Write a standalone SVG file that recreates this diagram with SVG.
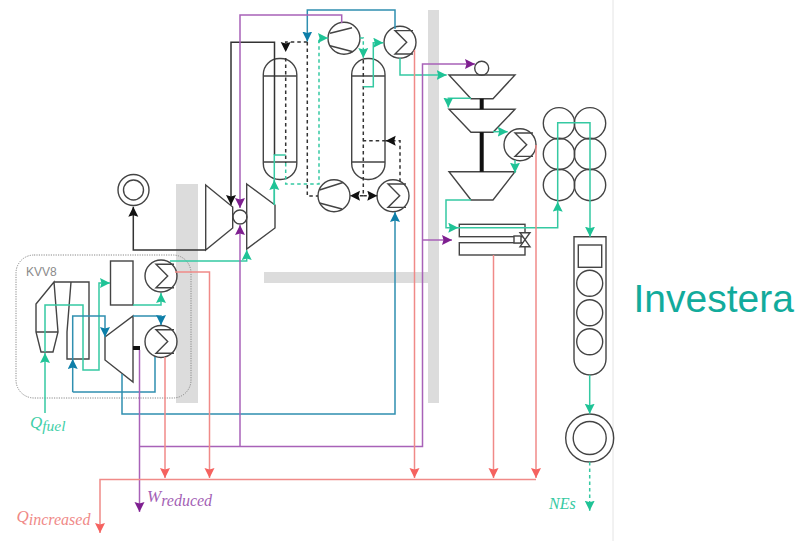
<svg xmlns="http://www.w3.org/2000/svg" width="801" height="541" viewBox="0 0 801 541">
<style>
.n{fill:none;stroke:#444;stroke-width:1.4}
.w{fill:#fff;stroke:#444;stroke-width:1.4}
.bar{fill:#dcdcdc}
.c{fill:none;stroke-width:1.5}
.g{stroke:#35c9a2}
.t{stroke:#2f8fb0}
.p{stroke:#a862b8}
.r{stroke:#f08a88}
.k{stroke:#333}
.d{stroke-dasharray:3.5 3}
text{font-family:"Liberation Serif",serif;font-style:italic}
</style>
<defs>
<marker id="ag" markerUnits="userSpaceOnUse" markerWidth="11" markerHeight="11" refX="10" refY="5" orient="auto"><path d="M0,0L10,5L0,10L1.500,5Z" fill="#1fc396"/></marker>
<marker id="at" markerUnits="userSpaceOnUse" markerWidth="11" markerHeight="11" refX="10" refY="5" orient="auto"><path d="M0,0L10,5L0,10L1.500,5Z" fill="#0d7ea8"/></marker>
<marker id="ap" markerUnits="userSpaceOnUse" markerWidth="11" markerHeight="11" refX="10" refY="5" orient="auto"><path d="M0,0L10,5L0,10L1.500,5Z" fill="#7e1f90"/></marker>
<marker id="ar" markerUnits="userSpaceOnUse" markerWidth="11" markerHeight="11" refX="10" refY="5" orient="auto"><path d="M0,0L10,5L0,10L1.500,5Z" fill="#f5625f"/></marker>
<marker id="ak" markerUnits="userSpaceOnUse" markerWidth="11" markerHeight="11" refX="10" refY="5" orient="auto"><path d="M0,0L10,5L0,10L1.500,5Z" fill="#111"/></marker>
<path id="sig" d="M13,-11.700H-5L6.700,0L-5,11.700H13" fill="none" stroke="#444" stroke-width="1.400"/>
</defs>
<rect width="801" height="541" fill="#fff"/>
<path d="M613,0V541" stroke="#e4e4e4" stroke-width="1"/>
<g id="bars">
<rect class="bar" x="176" y="184" width="22" height="219"/>
<rect class="bar" x="428" y="10" width="11" height="393"/>
<rect class="bar" x="264" y="272" width="164" height="11"/>
</g>
<g id="kvv8">
<rect x="16" y="255" width="175" height="143" rx="18" fill="none" stroke="#888" stroke-width="1" stroke-dasharray="1.2 1.2"/>
<text x="26" y="276" font-size="12" fill="#8a8a8a" style="font-family:'Liberation Sans',sans-serif;font-style:normal">KVV8</text>
</g>
<g id="sink-top"><circle class="n" cx="133.500" cy="190" r="15.500"/><circle class="n" cx="133.500" cy="190" r="10"/></g>
<g id="compressor-1"><path class="n" d="M205.700,185L232.700,207V228L205.700,250Z"/></g>
<g id="mixer-1"><circle class="n" cx="240" cy="217" r="7"/></g>
<g id="turbine-1"><path class="n" d="M246.700,184L275,205V228L246.700,249Z"/></g>
<g id="furnace"><path class="n" d="M54,282L36,304V332L41,352H53L58,332ZM36,332H58"/></g>
<g id="exchanger"><path class="n" d="M54,282H89V359H67V332L71,282"/></g>
<g id="box-1"><rect class="n" x="110.500" y="261" width="22.500" height="44"/></g>
<g id="turbine-2"><path class="n" d="M105,337L133,316V382L105,360Z"/><rect x="133" y="346" width="7" height="4" fill="#111"/></g>
<g id="sum-1"><circle class="n" cx="161" cy="276" r="16"/><use href="#sig" x="161" y="276"/></g>
<g id="sum-2"><circle class="n" cx="161" cy="341.500" r="16"/><use href="#sig" x="161" y="341.500"/></g>
<g id="column-1"><rect class="n" x="263.300" y="58.500" width="33.500" height="121" rx="16"/><path class="n" d="M263.300,76H296.800M263.300,162H296.800"/></g>
<g id="column-2"><rect class="n" x="351.700" y="58.500" width="33.300" height="121" rx="16"/><path class="n" d="M351.700,76H385M351.700,162H385"/></g>
<g id="compressor-top"><circle class="n" cx="344" cy="38.300" r="16"/><path class="n" d="M330,33.300L352,27.700M330,45.700L353,51.700"/></g>
<g id="compressor-bottom"><circle class="n" cx="334" cy="195.700" r="16"/><path class="n" d="M319.500,190L343,182.500M319.500,203L342,209"/></g>
<g id="sum-top"><circle class="n" cx="400" cy="42.300" r="16"/><use href="#sig" x="400" y="42.300"/></g>
<g id="sum-bottom"><circle class="n" cx="393" cy="195.700" r="16"/><use href="#sig" x="393" y="195.700"/></g>
<g id="sum-right"><circle class="n" cx="520" cy="144.700" r="16"/><use href="#sig" x="520" y="144.700"/></g>
<g id="mixer-2"><circle class="n" cx="481.700" cy="68.300" r="7"/></g>
<g id="stage-1"><path class="n" d="M449,75H515L493,98.700H471Z"/></g>
<g id="stage-2"><path class="n" d="M449,109.300H515L493,132.300H471Z"/></g>
<g id="stage-3"><path class="n" d="M449,171.700H515L493,200H471Z"/></g>
<g id="shafts"><path d="M481.700,98.700V109.300M481.700,132.300V171.700" stroke="#111" stroke-width="4" fill="none"/></g>
<g id="cond-1"><rect class="n" x="459.300" y="224.300" width="65.700" height="12.400"/></g>
<g id="cond-2"><rect class="n" x="459.300" y="242.700" width="65.700" height="12.300"/></g>
<g id="valve"><rect class="w" x="514" y="236" width="7" height="7"/><path class="w" d="M520,232.700H530L520,246.700H530Z"/></g>
<g id="tanks">
<circle class="n" cx="559" cy="123.300" r="15.700"/><circle class="n" cx="590" cy="123.300" r="15.700"/>
<circle class="n" cx="559" cy="154" r="15.700"/><circle class="n" cx="590" cy="154" r="15.700"/>
<circle class="n" cx="559" cy="185" r="15.700"/><circle class="n" cx="590" cy="185" r="15.700"/>
</g>
<g id="stack">
<path class="n" d="M574,236.700H606V359A16,16 0 0 1 574,359Z"/>
<rect class="n" x="578.300" y="245" width="23.400" height="22.300"/>
<circle class="n" cx="589.700" cy="283.300" r="13"/><circle class="n" cx="589.700" cy="312.700" r="13"/><circle class="n" cx="589.700" cy="341.700" r="13"/>
</g>
<g id="sink-bottom"><circle class="n" cx="589.700" cy="438" r="24"/><circle class="n" cx="589.700" cy="438" r="16.500"/></g>
<g id="connectors">
<path class="c k" d="M205.700,250H133.300V206.700" marker-end="url(#ak)"/>
<path class="c k" d="M274.500,155V42.300H231V205" marker-end="url(#ak)"/>
<path class="c k d" d="M307.300,42H285.700V52" marker-end="url(#ak)"/>
<path class="c k d" d="M285.700,58V163"/>
<path class="c k d" d="M307.300,42V196H318"/>
<path class="c k d" d="M363.300,60V195.700"/>
<path class="c k d" d="M363.300,195.700H350" marker-end="url(#ak)"/>
<path class="c k d" d="M363.300,195.700H377.300" marker-end="url(#ak)"/>
<path class="c k d" d="M400,181.700V140.700H385.700" marker-end="url(#ak)"/>
<path class="c k d" d="M385.700,140.700H363.300"/>
<path class="c g" d="M45,413V353" marker-end="url(#ag)"/>
<path class="c g" d="M45,352V305H83V370H99V283H110" marker-end="url(#ag)"/>
<path class="c g" d="M133,305H161V293" marker-end="url(#ag)"/>
<path class="c g" d="M170,261H246.700V250" marker-end="url(#ag)"/>
<path class="c g" d="M285.700,155H274.300V205"/>
<path class="c g" d="M274.300,205V180" marker-end="url(#ag)"/>
<path class="c g d" d="M285.700,163V184H319V38H328" marker-end="url(#ag)"/>
<path class="c g d" d="M360,38H363.300V58" marker-end="url(#ag)"/>
<path class="c g" d="M363.300,86.700H373.300V42.700H383.300" marker-end="url(#ag)"/>
<path class="c g" d="M400,58V75H446.700" marker-end="url(#ag)"/>
<path class="c g" d="M471,98.300H448.300V107.500" marker-end="url(#ag)"/>
<path class="c g" d="M493,131.700H507.700" marker-end="url(#ag)"/>
<path class="c g" d="M515,160V172.700" marker-end="url(#ag)"/>
<path class="c g" d="M471,200H446V227.700H458.300" marker-end="url(#ag)"/>
<path class="c g" d="M458.300,227.700H557.700V201.700" marker-end="url(#ag)"/>
<path class="c g" d="M557.700,201.700V122.700H590V236.700" marker-end="url(#ag)"/>
<path class="c g" d="M589.700,375V413.700" marker-end="url(#ag)"/>
<path class="c g d" d="M589.700,462V510.700" marker-end="url(#ag)"/>
<path class="c t" d="M72.700,392H155V357"/>
<path class="c t" d="M72.700,392V359" marker-end="url(#at)"/>
<path class="c t" d="M72.700,359V316H105V337" marker-end="url(#at)"/>
<path class="c t" d="M133,316H161V325" marker-end="url(#at)"/>
<path class="c t" d="M122,374V414H395V212" marker-end="url(#at)"/>
<path class="c t" d="M395,29V10H307.300V41.500" marker-end="url(#at)"/>
<path class="c p" d="M139.500,350V512" marker-end="url(#ap)"/>
<path class="c p" d="M139.500,446.500H422.500V64H475" marker-end="url(#ap)"/>
<path class="c p" d="M240,446.500V225" marker-end="url(#ap)"/>
<path class="c p" d="M341.700,23V15H240V208" marker-end="url(#ap)"/>
<path class="c p" d="M422.500,240H452" marker-end="url(#ap)"/>
<path class="c r" d="M175,272H209.500V478" marker-end="url(#ar)"/>
<path class="c r" d="M165,357V478" marker-end="url(#ar)"/>
<path class="c r" d="M414.500,50V478" marker-end="url(#ar)"/>
<path class="c r" d="M493.500,255V478" marker-end="url(#ar)"/>
<path class="c r" d="M536,145V478" marker-end="url(#ar)"/>
<path class="c r" d="M536,479.500H100V533" marker-end="url(#ar)"/>
</g>
<g id="labels">
<text x="30" y="428" font-size="17" fill="#3fcfa8">Q<tspan font-size="15.500" dy="3">fuel</tspan></text>
<text x="147" y="502" font-size="17" fill="#a45fb5">W<tspan font-size="16" dy="4">reduced</tspan></text>
<text x="16.500" y="522" font-size="17" fill="#f08a88">Q<tspan font-size="16" dy="3">increased</tspan></text>
<text x="549" y="509" font-size="16" fill="#35c9a2">NEs</text>
<text x="633.500" y="311.500" font-size="39" fill="#12ab9c" style="font-family:'Liberation Sans',sans-serif;font-style:normal">Investera</text>
</g>
</svg>
